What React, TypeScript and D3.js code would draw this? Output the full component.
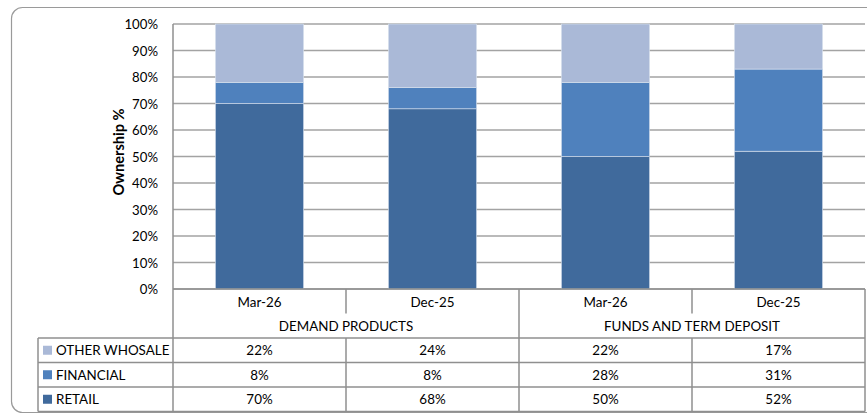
import React from "react";
import * as d3 from "d3";

const categories = ["Mar-26", "Dec-25", "Mar-26", "Dec-25"];
const groups = ["DEMAND PRODUCTS", "FUNDS AND TERM DEPOSIT"];
const retail = [70, 68, 50, 52];
const financial = [8, 8, 28, 31];
const otherWholesale = [22, 24, 22, 17];
const yTicks = [0, 10, 20, 30, 40, 50, 60, 70, 80, 90, 100];

const colors: Record<string, string> = {
  RETAIL: "#406a9c",
  FINANCIAL: "#4f81bd",
  "OTHER WHOSALE": "#aab9d7",
};

const W = 867;
const H = 416;
const plotL = 173;
const plotR = 865;
const plotT = 24;
const plotB = 289;
const rowH = 24.5;
const font = "Lato, 'Open Sans', sans-serif";
const lineC = "#8f8f8f";
const fs = 13.4;

export default function App() {
  const idx = categories.map((_, i) => i);
  const x = d3
    .scaleBand<number>()
    .domain(idx)
    .range([plotL, plotR])
    .paddingInner(0.49)
    .paddingOuter(0.245);
  const step = x.step();
  const y = d3.scaleLinear().domain([0, 100]).range([plotB, plotT]);

  const rows = [
    { name: "OTHER WHOSALE", values: otherWholesale },
    { name: "FINANCIAL", values: financial },
    { name: "RETAIL", values: retail },
  ];

  const stackData = idx.map((i) => ({
    i,
    RETAIL: retail[i],
    FINANCIAL: financial[i],
    "OTHER WHOSALE": otherWholesale[i],
  }));
  const stack = d3
    .stack<any>()
    .keys(["RETAIL", "FINANCIAL", "OTHER WHOSALE"])(stackData);

  const catRowB = plotB + rowH;
  const grpRowB = catRowB + rowH;
  const tableRows = rows.map((r, k) => ({ ...r, top: grpRowB + k * rowH }));
  const tableB = grpRowB + rows.length * rowH;
  const legendL = 38;
  const colEdge = (i: number) => plotL + i * step;

  return (
    <svg
      width={W}
      height={H}
      style={{ position: "absolute", left: 0, top: 0, display: "block", background: "#fff" }}
      fontFamily={font}
    >
      <rect x={11.5} y={7.5} width={900} height={405} rx={11} fill="#fff" stroke="#9a9a9a" strokeWidth={1.2} />

      {yTicks.map((t) => (
        <line
          key={"g" + t}
          x1={plotL}
          x2={plotR}
          y1={y(t)}
          y2={y(t)}
          stroke="#a3a3a3"
          strokeWidth={1.5}
        />
      ))}
      {yTicks.map((t) => (
        <text
          key={"t" + t}
          x={158}
          y={y(t)}
          textAnchor="end"
          dominantBaseline="central"
          fontSize={13.2}
          fill="#000"
        >
          {t}%
        </text>
      ))}
      <text
        transform={`translate(118,152) rotate(-90)`}
        textAnchor="middle"
        dominantBaseline="central"
        fontSize={14.6}
        fontWeight="bold"
      >
        Ownership %
      </text>

      {stack.map((s) =>
        s.map((d, j) => (
          <rect
            key={s.key + j}
            x={x(j)}
            width={x.bandwidth()}
            y={y(d[1])}
            height={y(d[0]) - y(d[1])}
            fill={colors[s.key as string]}
            stroke="#dbe3ef"
            strokeWidth={0.6}
          />
        ))
      )}

      <line x1={plotL} x2={plotL} y1={plotT} y2={tableB} stroke={lineC} strokeWidth={1.5} />
      <line x1={plotL} x2={plotR} y1={plotB} y2={plotB} stroke={lineC} strokeWidth={1.5} />
      <line x1={plotR} x2={plotR} y1={plotB} y2={tableB} stroke={lineC} strokeWidth={1.5} />

      {categories.map((c, i) => (
        <text
          key={"c" + i}
          x={colEdge(i) + step / 2}
          y={plotB + rowH / 2 + 1}
          textAnchor="middle"
          dominantBaseline="central"
          fontSize={fs}
        >
          {c}
        </text>
      ))}
      {[1, 3].map((i) => (
        <line key={"cd" + i} x1={colEdge(i)} x2={colEdge(i)} y1={plotB} y2={catRowB} stroke={lineC} strokeWidth={1.5} />
      ))}
      {groups.map((g, k) => (
        <text
          key={"gr" + k}
          x={colEdge(k * 2) + step}
          y={catRowB + rowH / 2}
          textAnchor="middle"
          dominantBaseline="central"
          fontSize={fs}
        >
          {g}
        </text>
      ))}
      <line x1={colEdge(2)} x2={colEdge(2)} y1={plotB} y2={tableB} stroke={lineC} strokeWidth={1.5} />

      <line x1={legendL} x2={plotR} y1={grpRowB} y2={grpRowB} stroke={lineC} strokeWidth={1.5} />
      {tableRows.map((r) => (
        <g key={r.name}>
          <line x1={legendL} x2={plotR} y1={r.top + rowH} y2={r.top + rowH} stroke={lineC} strokeWidth={1.5} />
          <rect x={43} y={r.top + rowH / 2 - 4.5} width={9} height={9} fill={colors[r.name]} />
          <text x={56} y={r.top + rowH / 2} dominantBaseline="central" fontSize={fs}>
            {r.name}
          </text>
          {r.values.map((v, i) => (
            <text
              key={i}
              x={colEdge(i) + step / 2}
              y={r.top + rowH / 2}
              textAnchor="middle"
              dominantBaseline="central"
              fontSize={fs}
            >
              {v}%
            </text>
          ))}
        </g>
      ))}
      <line x1={legendL} x2={legendL} y1={grpRowB} y2={tableB} stroke={lineC} strokeWidth={1.5} />
      {[1, 3].map((i) => (
        <line key={"td" + i} x1={colEdge(i)} x2={colEdge(i)} y1={grpRowB} y2={tableB} stroke={lineC} strokeWidth={1.5} />
      ))}
    </svg>
  );
}
